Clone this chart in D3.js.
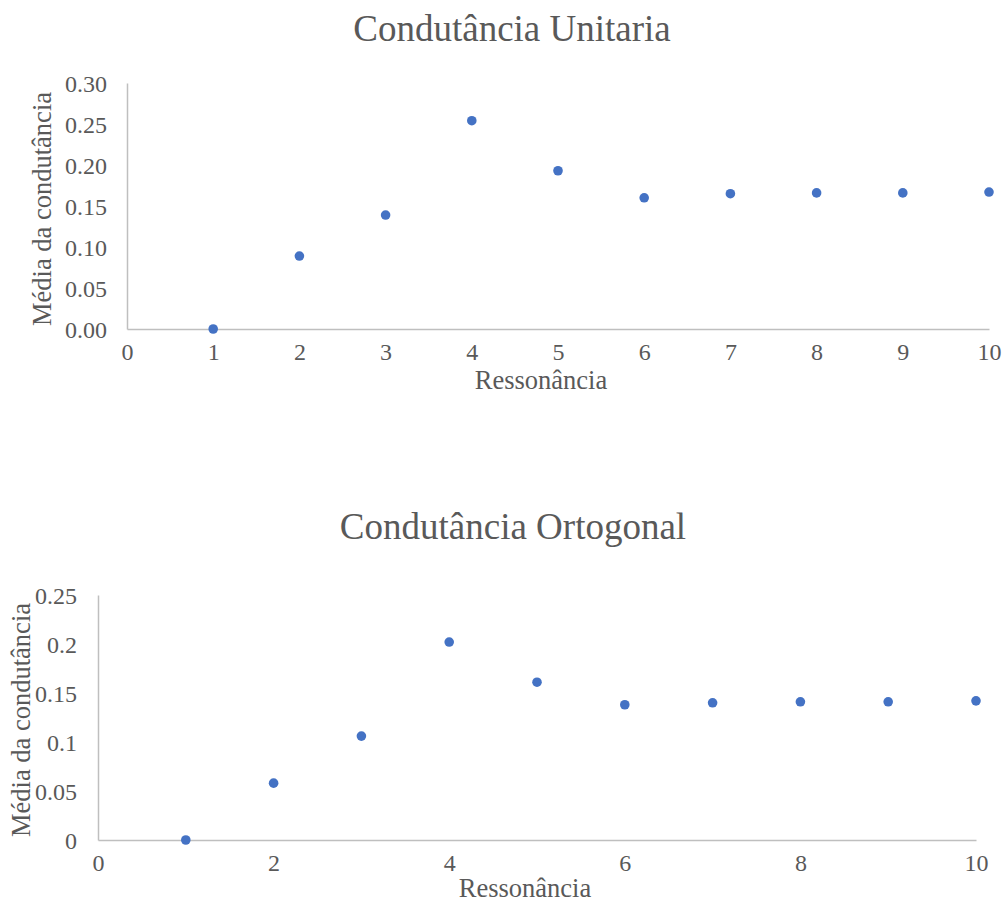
<!DOCTYPE html>
<html lang="pt">
<head>
  <meta charset="UTF-8">
  <title>Condutância</title>
  <script src="https://d3js.org/d3.v7.min.js"></script>
  <style>
    body { margin: 0; background: #fff; }
    svg { font-family: "Liberation Serif", "Times New Roman", serif; }
    .title { font-size: 37px; fill: #595959; }
    .tick text { font-size: 24px; fill: #595959; }
    .axis-label { font-size: 26.5px; fill: #595959; }
    .domain { stroke: #bfbfbf; stroke-width: 1.5px; }
  </style>
</head>
<body>
  <div id="chart"></div>
  <script>
    // resonance index (x) shared by both charts
    const resonance = [1, 2, 3, 4, 5, 6, 7, 8, 9, 10];

    // mean conductance, unitary case
    const unitaria = [0, 0.089, 0.139, 0.254, 0.193, 0.160, 0.165, 0.166, 0.166, 0.167];
    const unitariaYTicks = ["0.00", "0.05", "0.10", "0.15", "0.20", "0.25", "0.30"];
    const unitariaXTicks = [0, 1, 2, 3, 4, 5, 6, 7, 8, 9, 10];

    // mean conductance, orthogonal case
    const ortogonal = [0, 0.058, 0.106, 0.202, 0.161, 0.138, 0.140, 0.141, 0.141, 0.142];
    const ortogonalYTicks = ["0", "0.05", "0.1", "0.15", "0.2", "0.25"];
    const ortogonalXTicks = [0, 2, 4, 6, 8, 10];

    const svg = d3.select("#chart")
      .append("svg")
      .attr("width", 1008)
      .attr("height", 904);

    function drawChart(opts) {
      const g = svg.append("g");

      const x = d3.scaleLinear().domain([0, 10]).range([opts.left, opts.right]);
      const y = d3.scaleLinear().domain([0, opts.yMax]).range([opts.bottom, opts.top]);

      g.append("text")
        .attr("class", "title")
        .attr("x", opts.titleX)
        .attr("y", opts.titleY)
        .attr("text-anchor", "middle")
        .text(opts.title);

      const yAxis = g.append("g")
        .attr("transform", `translate(${opts.left},0)`)
        .call(d3.axisLeft(y)
          .tickValues(opts.yTicks.map(Number))
          .tickFormat((d, i) => opts.yTicks[i])
          .tickSize(0)
          .tickPadding(opts.yPad));
      yAxis.selectAll("text").attr("dy", "0.35em");

      const xAxis = g.append("g")
        .attr("transform", `translate(0,${opts.bottom})`)
        .call(d3.axisBottom(x)
          .tickValues(opts.xTicks)
          .tickSize(0)
          .tickPadding(14));

      // drop d3's default sans-serif / 10px on the axis groups
      yAxis.attr("font-family", null).attr("font-size", null);
      xAxis.attr("font-family", null).attr("font-size", null);

      g.append("text")
        .attr("class", "axis-label")
        .attr("x", opts.xLabelX)
        .attr("y", opts.xLabelY)
        .attr("text-anchor", "middle")
        .text("Ressonância");

      g.append("text")
        .attr("class", "axis-label")
        .attr("transform", `translate(${opts.yLabelX},${opts.yLabelY}) rotate(-90)`)
        .attr("text-anchor", "middle")
        .text("Média da condutância");

      g.selectAll("circle.pt")
        .data(resonance.map((r, i) => ({ r, v: opts.values[i] })))
        .join("circle")
        .attr("class", "pt")
        .attr("cx", d => x(d.r))
        .attr("cy", d => y(d.v))
        .attr("r", 4.8)
        .attr("fill", "#4472C4");
    }

    drawChart({
      title: "Condutância Unitaria",
      values: unitaria,
      yTicks: unitariaYTicks,
      xTicks: unitariaXTicks,
      yMax: 0.30,
      left: 127, right: 989, top: 83, bottom: 329,
      yPad: 20,
      titleX: 512, titleY: 41,
      xLabelX: 541, xLabelY: 389,
      yLabelX: 51, yLabelY: 209
    });

    drawChart({
      title: "Condutância Ortogonal",
      values: ortogonal,
      yTicks: ortogonalYTicks,
      xTicks: ortogonalXTicks,
      yMax: 0.25,
      left: 98, right: 976, top: 595, bottom: 840,
      yPad: 21,
      titleX: 513, titleY: 539,
      xLabelX: 525, xLabelY: 897,
      yLabelX: 30, yLabelY: 720
    });
  </script>
</body>
</html>
